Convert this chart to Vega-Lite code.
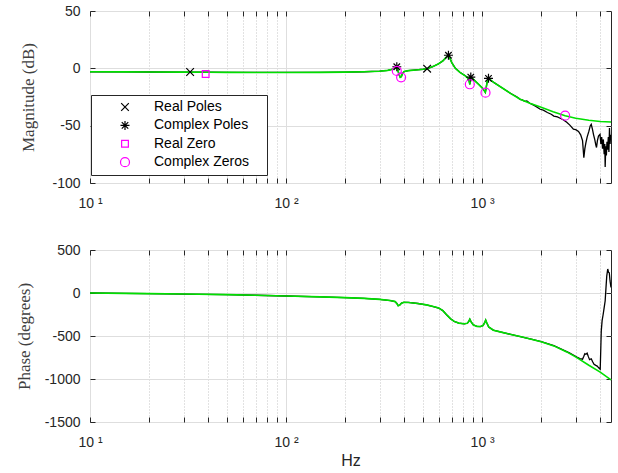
{
  "$schema": "https://vega.github.io/schema/vega-lite/v6.json",
  "background": "white",
  "padding": {"left": 14, "top": 3, "right": 7, "bottom": 5},
  "bounds": "flush",
  "spacing": 67,
  "config": {
    "font": "Liberation Sans",
    "view": {"stroke": "#262626", "strokeWidth": 1},
    "axis": {
      "domain": false,
      "labelFont": "Liberation Sans",
      "labelFontSize": 14,
      "labelColor": "#262626",
      "tickColor": "#262626",
      "tickSize": -5,
      "titleFont": "Liberation Serif",
      "titleFontSize": 17,
      "titleFontWeight": "normal",
      "titleColor": "#404040",
      "gridColor": "#dedede"
    }
  },
  "datasets": {
    "magFit": [
      {"f":10,"v":-3.0},{"f":15,"v":-3.1},{"f":20,"v":-3.2},{"f":30,"v":-3.3},{"f":40,"v":-3.4},{"f":50,"v":-3.5},{"f":70,"v":-3.6},{"f":100,"v":-3.6},{"f":150,"v":-3.5},{"f":200,"v":-3.3},{"f":250,"v":-3.0},{"f":300,"v":-2.5},{"f":330,"v":-1.8},{"f":350,"v":-0.8},{"f":360,"v":0.3},{"f":367,"v":1.0},{"f":371,"v":-1.0},{"f":376,"v":-5},{"f":382,"v":-7.8},{"f":387,"v":-7.2},{"f":393,"v":-4.2},{"f":400,"v":-2.8},{"f":420,"v":-2.0},{"f":460,"v":-1.4},{"f":500,"v":-0.8},{"f":524,"v":-0.3},{"f":560,"v":1.5},{"f":600,"v":4.0},{"f":630,"v":6.5},{"f":655,"v":9.5},{"f":673,"v":11.4},{"f":682,"v":9.5},{"f":700,"v":5},{"f":730,"v":0},{"f":770,"v":-3.5},{"f":820,"v":-6.5},{"f":845,"v":-8.5},{"f":858,"v":-11},{"f":865,"v":-14},{"f":871,"v":-10},{"f":877,"v":-7.8},{"f":890,"v":-8.8},{"f":920,"v":-11},{"f":960,"v":-14},{"f":1000,"v":-17},{"f":1025,"v":-19.5},{"f":1038,"v":-21},{"f":1048,"v":-17},{"f":1062,"v":-11},{"f":1077,"v":-8.7},{"f":1095,"v":-9.8},{"f":1150,"v":-12.5},{"f":1250,"v":-16.5},{"f":1400,"v":-22},{"f":1563,"v":-27},{"f":1750,"v":-30.5},{"f":2000,"v":-34},{"f":2300,"v":-37.8},{"f":2650,"v":-41.3},{"f":3000,"v":-43.5},{"f":3500,"v":-45.3},{"f":4000,"v":-46.3},{"f":4540,"v":-46.8}
    ],
    "magMeas": [
      {"f":10,"v":-3.0},{"f":15,"v":-3.1},{"f":20,"v":-3.2},{"f":30,"v":-3.3},{"f":40,"v":-3.4},{"f":50,"v":-3.5},{"f":70,"v":-3.6},{"f":100,"v":-3.6},{"f":150,"v":-3.5},{"f":200,"v":-3.3},{"f":250,"v":-3.0},{"f":300,"v":-2.5},{"f":330,"v":-1.8},{"f":350,"v":-0.8},{"f":360,"v":0.3},{"f":367,"v":1.0},{"f":371,"v":-1.0},{"f":376,"v":-5},{"f":382,"v":-7.8},{"f":387,"v":-7.2},{"f":393,"v":-4.2},{"f":400,"v":-2.8},{"f":420,"v":-2.0},{"f":460,"v":-1.4},{"f":500,"v":-0.8},{"f":524,"v":-0.3},{"f":560,"v":1.5},{"f":600,"v":4.0},{"f":630,"v":6.5},{"f":655,"v":9.5},{"f":673,"v":11.4},{"f":682,"v":9.5},{"f":700,"v":5},{"f":730,"v":0},{"f":770,"v":-3.5},{"f":820,"v":-6.5},{"f":845,"v":-8.5},{"f":858,"v":-11},{"f":865,"v":-14},{"f":871,"v":-10},{"f":877,"v":-7.8},{"f":890,"v":-8.8},{"f":920,"v":-11},{"f":960,"v":-14},{"f":1000,"v":-17},{"f":1025,"v":-19.5},{"f":1038,"v":-21},{"f":1048,"v":-17},{"f":1062,"v":-11},{"f":1077,"v":-8.7},{"f":1095,"v":-9.8},{"f":1150,"v":-12.5},{"f":1250,"v":-16.5},{"f":1400,"v":-22},{"f":1500,"v":-24.8},{"f":1563,"v":-27},{"f":1600,"v":-27.5},{"f":1650,"v":-28.8},{"f":1690,"v":-28.5},{"f":1750,"v":-30.5},{"f":1800,"v":-31.5},{"f":1870,"v":-33},{"f":1977,"v":-35.7},{"f":2050,"v":-36.5},{"f":2150,"v":-38.5},{"f":2250,"v":-40},{"f":2320,"v":-41.6},{"f":2420,"v":-42.3},{"f":2500,"v":-43.5},{"f":2600,"v":-45},{"f":2700,"v":-47},{"f":2800,"v":-49.5},{"f":2920,"v":-53},{"f":3000,"v":-53.5},{"f":3100,"v":-55},{"f":3180,"v":-58},{"f":3250,"v":-63},{"f":3300,"v":-78},{"f":3340,"v":-70},{"f":3380,"v":-65},{"f":3430,"v":-60},{"f":3500,"v":-55},{"f":3560,"v":-50},{"f":3600,"v":-48.8},{"f":3650,"v":-53},{"f":3700,"v":-58},{"f":3750,"v":-62},{"f":3800,"v":-67},{"f":3830,"v":-69},{"f":3870,"v":-63},{"f":3920,"v":-59},{"f":3990,"v":-57.5},{"f":4030,"v":-66},{"f":4070,"v":-60},{"f":4110,"v":-70},{"f":4150,"v":-62},{"f":4190,"v":-75},{"f":4220,"v":-66},{"f":4240,"v":-86},{"f":4270,"v":-68},{"f":4300,"v":-76},{"f":4330,"v":-64},{"f":4360,"v":-71},{"f":4400,"v":-60},{"f":4430,"v":-73},{"f":4460,"v":-52},{"f":4490,"v":-66},{"f":4520,"v":-58},{"f":4540,"v":-60}
    ],
    "pz": [
      {"f":32.4,"v":-3.2,"type":"Real Poles"},
      {"f":524,"v":-0.3,"type":"Real Poles"},
      {"f":367,"v":1.4,"type":"Complex Poles"},
      {"f":673,"v":11.4,"type":"Complex Poles"},
      {"f":875,"v":-7.6,"type":"Complex Poles"},
      {"f":1077,"v":-8.7,"type":"Complex Poles"},
      {"f":38.9,"v":-4.9,"type":"Real Zero"},
      {"f":367,"v":-2.3,"type":"Complex Zeros"},
      {"f":386,"v":-7.8,"type":"Complex Zeros"},
      {"f":865,"v":-13.9,"type":"Complex Zeros"},
      {"f":1040,"v":-21.2,"type":"Complex Zeros"},
      {"f":2650,"v":-41.3,"type":"Complex Zeros"}
    ],
    "phFit": [
      {"f":10,"v":0},{"f":15,"v":-4},{"f":20,"v":-7},{"f":30,"v":-12},{"f":50,"v":-19},{"f":70,"v":-26},{"f":100,"v":-35},{"f":150,"v":-45},{"f":200,"v":-54},{"f":250,"v":-63},{"f":300,"v":-74},{"f":340,"v":-88},{"f":360,"v":-100},{"f":368,"v":-125},{"f":373,"v":-148},{"f":380,"v":-140},{"f":388,"v":-118},{"f":398,"v":-108},{"f":420,"v":-110},{"f":470,"v":-122},{"f":520,"v":-138},{"f":570,"v":-160},{"f":600,"v":-175},{"f":630,"v":-205},{"f":660,"v":-255},{"f":690,"v":-300},{"f":720,"v":-330},{"f":760,"v":-350},{"f":810,"v":-358},{"f":840,"v":-352},{"f":855,"v":-330},{"f":865,"v":-305},{"f":875,"v":-330},{"f":900,"v":-370},{"f":940,"v":-388},{"f":980,"v":-390},{"f":1010,"v":-378},{"f":1030,"v":-345},{"f":1042,"v":-315},{"f":1055,"v":-345},{"f":1080,"v":-395},{"f":1140,"v":-432},{"f":1250,"v":-455},{"f":1400,"v":-482},{"f":1563,"v":-506},{"f":1800,"v":-540},{"f":2000,"v":-568},{"f":2320,"v":-615},{"f":2700,"v":-685},{"f":3040,"v":-751},{"f":3500,"v":-840},{"f":4000,"v":-920},{"f":4540,"v":-1010}
    ],
    "phMeas": [
      {"f":10,"v":0},{"f":15,"v":-4},{"f":20,"v":-7},{"f":30,"v":-12},{"f":50,"v":-19},{"f":70,"v":-26},{"f":100,"v":-35},{"f":150,"v":-45},{"f":200,"v":-54},{"f":250,"v":-63},{"f":300,"v":-74},{"f":340,"v":-88},{"f":360,"v":-100},{"f":368,"v":-125},{"f":373,"v":-148},{"f":380,"v":-140},{"f":388,"v":-118},{"f":398,"v":-108},{"f":420,"v":-110},{"f":470,"v":-122},{"f":520,"v":-138},{"f":570,"v":-160},{"f":600,"v":-175},{"f":630,"v":-205},{"f":660,"v":-255},{"f":690,"v":-300},{"f":720,"v":-330},{"f":760,"v":-350},{"f":810,"v":-358},{"f":840,"v":-352},{"f":855,"v":-330},{"f":865,"v":-305},{"f":875,"v":-330},{"f":900,"v":-370},{"f":940,"v":-388},{"f":980,"v":-390},{"f":1010,"v":-378},{"f":1030,"v":-345},{"f":1042,"v":-315},{"f":1055,"v":-345},{"f":1080,"v":-395},{"f":1140,"v":-432},{"f":1250,"v":-455},{"f":1400,"v":-482},{"f":1563,"v":-506},{"f":1800,"v":-538},{"f":2000,"v":-566},{"f":2320,"v":-612},{"f":2700,"v":-682},{"f":2800,"v":-700},{"f":2900,"v":-718},{"f":3040,"v":-745},{"f":3150,"v":-762},{"f":3250,"v":-770},{"f":3300,"v":-735},{"f":3340,"v":-705},{"f":3380,"v":-712},{"f":3430,"v":-700},{"f":3480,"v":-740},{"f":3530,"v":-775},{"f":3600,"v":-765},{"f":3660,"v":-800},{"f":3720,"v":-830},{"f":3800,"v":-842},{"f":3860,"v":-850},{"f":3920,"v":-867},{"f":3970,"v":-880},{"f":4000,"v":-886},{"f":4030,"v":-620},{"f":4050,"v":-440},{"f":4090,"v":-322},{"f":4140,"v":-250},{"f":4190,"v":-170},{"f":4240,"v":-90},{"f":4280,"v":60},{"f":4320,"v":200},{"f":4370,"v":279},{"f":4410,"v":240},{"f":4450,"v":235},{"f":4490,"v":140},{"f":4540,"v":64}
    ]
  },
  "vconcat": [
    {
      "width": 521,
      "height": 172,
      "layer": [
        {
          "data": {"name": "magMeas"},
          "mark": {"type": "line", "color": "#000000", "strokeWidth": 1.3, "clip": true},
          "encoding": {
            "x": {
              "field": "f", "type": "quantitative",
              "scale": {"type": "log", "domain": [10, 4540], "nice": false},
              "axis": {
                "orient": "bottom", "title": null,
                "values": [10,20,30,40,50,60,70,80,90,100,200,300,400,500,600,700,800,900,1000,2000,3000,4000],
                "labelExpr": "datum.value == 10 ? '10 ¹' : datum.value == 100 ? '10 ²' : datum.value == 1000 ? '10 ³' : ''",
                "labelFlush": false, "labelOverlap": false, "labelPadding": 18,
                "grid": true,
                "gridDash": {"condition": {"test": "datum.value == 10 || datum.value == 100 || datum.value == 1000", "value": []}, "value": [1, 2]},
                "gridColor": {"condition": {"test": "datum.value == 10 || datum.value == 100 || datum.value == 1000", "value": "#dedede"}, "value": "#c4c4c4"}
              }
            },
            "y": {
              "field": "v", "type": "quantitative",
              "scale": {"domain": [-100, 50], "nice": false},
              "axis": {"orient": "left", "title": "Magnitude (dB)", "values": [-100, -50, 0, 50], "labelExpr": "'' + datum.value", "grid": true, "labelPadding": 15, "titlePadding": 14}
            }
          }
        },
        {
          "data": {"name": "magFit"},
          "mark": {"type": "line", "color": "#00e000", "strokeWidth": 1.6},
          "encoding": {
            "x": {"field": "f", "type": "quantitative", "axis": null},
            "y": {"field": "v", "type": "quantitative", "axis": null}
          }
        },
        {
          "data": {"name": "pz"},
          "mark": {"type": "point", "filled": false, "strokeWidth": 1.2, "size": 81, "opacity": 1},
          "encoding": {
            "x": {"field": "f", "type": "quantitative", "axis": null},
            "y": {"field": "v", "type": "quantitative", "axis": null},
            "shape": {
              "field": "type", "type": "nominal",
              "scale": {
                "domain": ["Real Poles", "Complex Poles", "Real Zero", "Complex Zeros"],
                "range": ["M-0.85,-0.85L0.85,0.85M-0.85,0.85L0.85,-0.85", "M0,-1L0,1M-1,0L1,0M-0.72,-0.72L0.72,0.72M-0.72,0.72L0.72,-0.72", "M-0.75,-0.75L0.75,-0.75L0.75,0.75L-0.75,0.75Z", "circle"]
              },
              "legend": {
                "title": ".", "titleOrient": "right", "titleOpacity": 0, "titleFontSize": 14, "titlePadding": 9,
                "orient": "none", "legendX": 1, "legendY": 84,
                "strokeColor": "#262626", "fillColor": "#ffffff", "padding": 5,
                "symbolOffset": 22, "labelOffset": 22, "rowPadding": 4.4,
                "symbolSize": 81, "symbolStrokeWidth": 1.2, "labelLimit": 300,
                "labelFont": "Liberation Sans", "labelFontSize": 14, "labelColor": "#000000"
              }
            },
            "color": {
              "field": "type", "type": "nominal",
              "scale": {
                "domain": ["Real Poles", "Complex Poles", "Real Zero", "Complex Zeros"],
                "range": ["#000000", "#000000", "#ff00ff", "#ff00ff"]
              },
              "legend": {
                "title": ".", "titleOrient": "right", "titleOpacity": 0, "titleFontSize": 14, "titlePadding": 9,
                "orient": "none", "legendX": 1, "legendY": 84,
                "strokeColor": "#262626", "fillColor": "#ffffff", "padding": 5,
                "symbolOffset": 22, "labelOffset": 22, "rowPadding": 4.4,
                "symbolSize": 81, "symbolStrokeWidth": 1.2, "labelLimit": 300,
                "labelFont": "Liberation Sans", "labelFontSize": 14, "labelColor": "#000000"
              }
            }
          }
        },
        {
          "data": {"name": "magFit"},
          "mark": {"type": "point", "opacity": 0},
          "encoding": {
            "x": {"field": "f", "type": "quantitative", "axis": {"orient": "top", "title": null, "labels": false, "grid": false, "values": [10,20,30,40,50,60,70,80,90,100,200,300,400,500,600,700,800,900,1000,2000,3000,4000]}},
            "y": {"field": "v", "type": "quantitative", "axis": {"orient": "right", "title": null, "labels": false, "grid": false, "values": [-100, -50, 0, 50]}}
          }
        }
      ],
      "resolve": {"axis": {"x": "independent", "y": "independent"}}
    },
    {
      "width": 521,
      "height": 172,
      "layer": [
        {
          "data": {"name": "phMeas"},
          "mark": {"type": "line", "color": "#000000", "strokeWidth": 1.3, "clip": true},
          "encoding": {
            "x": {
              "field": "f", "type": "quantitative",
              "scale": {"type": "log", "domain": [10, 4540], "nice": false},
              "axis": {
                "orient": "bottom", "title": "Hz", "titleFont": "Liberation Sans", "titleFontSize": 16, "titleColor": "#262626", "titlePadding": 3,
                "values": [10,20,30,40,50,60,70,80,90,100,200,300,400,500,600,700,800,900,1000,2000,3000,4000],
                "labelExpr": "datum.value == 10 ? '10 ¹' : datum.value == 100 ? '10 ²' : datum.value == 1000 ? '10 ³' : ''",
                "labelFlush": false, "labelOverlap": false, "labelPadding": 18,
                "grid": true,
                "gridDash": {"condition": {"test": "datum.value == 10 || datum.value == 100 || datum.value == 1000", "value": []}, "value": [1, 2]},
                "gridColor": {"condition": {"test": "datum.value == 10 || datum.value == 100 || datum.value == 1000", "value": "#dedede"}, "value": "#c4c4c4"}
              }
            },
            "y": {
              "field": "v", "type": "quantitative",
              "scale": {"domain": [-1500, 500], "nice": false},
              "axis": {"orient": "left", "title": "Phase (degrees)", "values": [-1500, -1000, -500, 0, 500], "labelExpr": "'' + datum.value", "grid": true, "labelPadding": 15, "titlePadding": 11}
            }
          }
        },
        {
          "data": {"name": "phFit"},
          "mark": {"type": "line", "color": "#00e000", "strokeWidth": 1.6},
          "encoding": {
            "x": {"field": "f", "type": "quantitative", "axis": null},
            "y": {"field": "v", "type": "quantitative", "axis": null}
          }
        },
        {
          "data": {"name": "phFit"},
          "mark": {"type": "point", "opacity": 0},
          "encoding": {
            "x": {"field": "f", "type": "quantitative", "axis": {"orient": "top", "title": null, "labels": false, "grid": false, "values": [10,20,30,40,50,60,70,80,90,100,200,300,400,500,600,700,800,900,1000,2000,3000,4000]}},
            "y": {"field": "v", "type": "quantitative", "axis": {"orient": "right", "title": null, "labels": false, "grid": false, "values": [-1500, -1000, -500, 0, 500]}}
          }
        }
      ],
      "resolve": {"axis": {"x": "independent", "y": "independent"}}
    }
  ]
}
